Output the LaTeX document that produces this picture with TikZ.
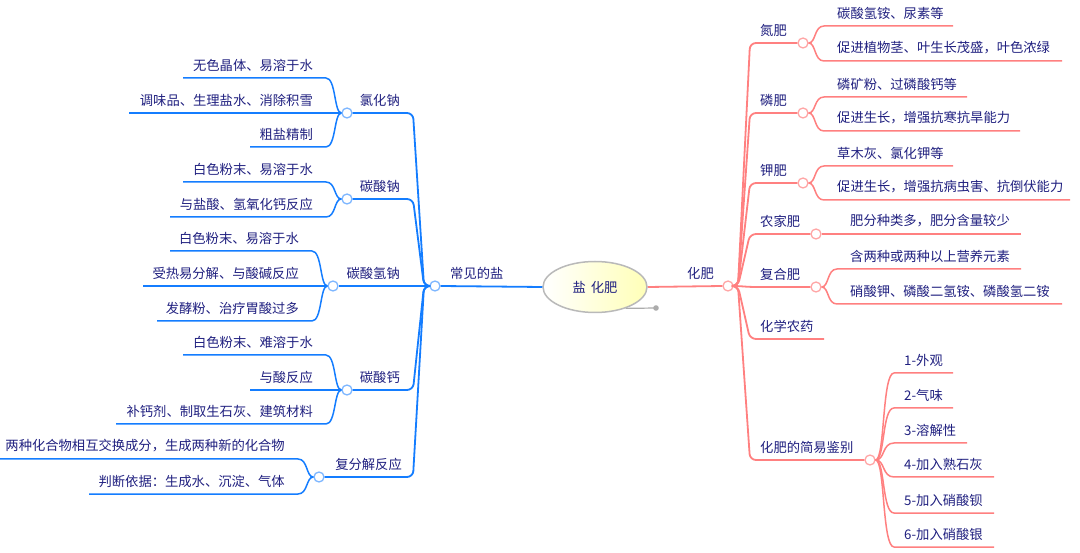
\documentclass[tikz,border=0pt]{standalone}
\usepackage{fontspec}
\setmainfont{Noto Sans CJK SC}
\usetikzlibrary{shapes.geometric}

\definecolor{mmblue}{RGB}{20,125,255}
\definecolor{mmpink}{RGB}{255,128,128}
\definecolor{mmtext}{RGB}{32,32,128}

\tikzset{
  txt/.style={inner sep=0pt, text=mmtext, font=\fontsize{13.3pt}{15pt}\selectfont},
  bline/.style={draw=mmblue, line width=1.8pt},
  pline/.style={draw=mmpink, line width=1.8pt},
  bleaf/.style={draw=mmblue, line width=1.5pt},
  pleaf/.style={draw=mmpink, line width=1.5pt},
  bdot/.style={circle, draw=mmblue!55, fill=white, line width=1.3pt, minimum size=10pt, inner sep=0pt},
  pdot/.style={circle, draw=mmpink!70, fill=white, line width=1.3pt, minimum size=10pt, inner sep=0pt},
}

\begin{document}
\begin{tikzpicture}[x=1pt, y=-1pt]
\useasboundingbox[fill=white] (0,0) rectangle (1080,553);

% centre
\node[ellipse, draw=gray!55, line width=1.5pt, left color=white, right color=yellow!28,
  minimum width=104pt, minimum height=51pt, txt] (root) at (595,287) {盐\hspace{5pt}化肥};
\coordinate (tail) at (656,308);
\draw[gray!65, line width=1.2pt] (root.-35) .. controls (641,309) .. (tail);
\fill[gray!65] (tail) circle (2.8pt);

\node[bdot] (salt) at (435,286) {};
\node[pdot] (fert) at (728,286) {};
\draw[bline] (root.west) -- (salt.east);
\draw[pline] (root.east) -- (fert.west);
\node[txt, anchor=west] (salt-t) at (450,273) {常见的盐};
\node[txt, anchor=west] (fert-t) at (687,273) {化肥};

% left side: salts
\node[bdot] (nacl) at (347,113) {};
\node[bdot] (na2co3) at (347,199) {};
\node[bdot] (nahco3) at (333,286) {};
\node[bdot] (caco3) at (347,390) {};
\node[bdot] (fufen) at (319,477) {};
\node[txt, anchor=east] (nacl-t) at (400,100) {氯化钠};
\node[txt, anchor=east] (na2co3-t) at (400,186) {碳酸钠};
\node[txt, anchor=east] (nahco3-t) at (400,273) {碳酸氢钠};
\node[txt, anchor=east] (caco3-t) at (400,377) {碳酸钙};
\node[txt, anchor=east] (fufen-t) at (402,464) {复分解反应};
\foreach \b/\y in {nacl/113, na2co3/199, nahco3/286, caco3/390, fufen/477}
  \draw[bline, rounded corners=6pt] (salt.west) -- (424,286) -- (413,\y) -- (\b.east);

\foreach \i/\xl/\y/\s in {1/183/78/无色晶体、易溶于水, 2/129/113/调味品、生理盐水、消除积雪, 3/250/147/粗盐精制}{
  \coordinate (nacl-\i) at (\xl,\y);
  \node[txt, anchor=east] (nacl-\i-t) at (313,\y-13) {\s};
  \draw[bleaf] (nacl.west) .. controls (334,113) and (336,\y) .. (326,\y) -- (nacl-\i);
}
\foreach \i/\xl/\y/\s in {1/183/182/白色粉末、易溶于水, 2/170/217/与盐酸、氢氧化钙反应}{
  \coordinate (na2co3-\i) at (\xl,\y);
  \node[txt, anchor=east] (na2co3-\i-t) at (313,\y-13) {\s};
  \draw[bleaf] (na2co3.west) .. controls (334,199) and (336,\y) .. (326,\y) -- (na2co3-\i);
}
\foreach \i/\xl/\y/\s in {1/170/251/白色粉末、易溶于水, 2/143/286/受热易分解、与酸碱反应, 3/157/321/发酵粉、治疗胃酸过多}{
  \coordinate (nahco3-\i) at (\xl,\y);
  \node[txt, anchor=east] (nahco3-\i-t) at (299,\y-13) {\s};
  \draw[bleaf] (nahco3.west) .. controls (320,286) and (322,\y) .. (312,\y) -- (nahco3-\i);
}
\foreach \i/\xl/\y/\s in {1/183/355/白色粉末、难溶于水, 2/250/390/与酸反应, 3/116/424/补钙剂、制取生石灰、建筑材料}{
  \coordinate (caco3-\i) at (\xl,\y);
  \node[txt, anchor=east] (caco3-\i-t) at (313,\y-13) {\s};
  \draw[bleaf] (caco3.west) .. controls (334,390) and (336,\y) .. (326,\y) -- (caco3-\i);
}
\foreach \i/\xl/\y/\s in {1/0/459/两种化合物相互交换成分，生成两种新的化合物, 2/89/494/判断依据：生成水、沉淀、气体}{
  \coordinate (fufen-\i) at (\xl,\y);
  \node[txt, anchor=east] (fufen-\i-t) at (285,\y-13) {\s};
  \draw[bleaf] (fufen.west) .. controls (306,477) and (308,\y) .. (298,\y) -- (fufen-\i);
}

% right side: fertilizers
\node[pdot] (nfei) at (803,43) {};
\node[pdot] (pfei) at (803,113) {};
\node[pdot] (kfei) at (803,183) {};
\node[pdot] (nongjia) at (816,234) {};
\node[pdot] (fuhe) at (816,287) {};
\coordinate (nongyao) at (824,339);
\node[pdot] (jianbie) at (870,460) {};
\node[txt, anchor=west] (nfei-t) at (760,30) {氮肥};
\node[txt, anchor=west] (pfei-t) at (760,100) {磷肥};
\node[txt, anchor=west] (kfei-t) at (760,170) {钾肥};
\node[txt, anchor=west] (nongjia-t) at (760,221) {农家肥};
\node[txt, anchor=west] (fuhe-t) at (760,274) {复合肥};
\node[txt, anchor=west] (nongyao-t) at (760,326) {化学农药};
\node[txt, anchor=west] (jianbie-t) at (760,447) {化肥的简易鉴别};
\foreach \b/\y in {nfei/43, pfei/113, kfei/183, nongjia/234, fuhe/287, jianbie/460}
  \draw[pline, rounded corners=6pt] (fert.east) -- (738,286) -- (750,\y) -- (\b.west);
\draw[pline, rounded corners=6pt] (fert.east) -- (738,286) -- (750,339) -- (nongyao);

\foreach \i/\xr/\y/\s in {1/953/26/碳酸氢铵、尿素等, 2/1062/61/促进植物茎、叶生长茂盛，叶色浓绿}{
  \coordinate (nfei-\i) at (\xr,\y);
  \node[txt, anchor=west] (nfei-\i-t) at (837,\y-13) {\s};
  \draw[pleaf] (nfei.east) .. controls (816,43) and (814,\y) .. (824,\y) -- (nfei-\i);
}
\foreach \i/\xr/\y/\s in {1/967/97/磷矿粉、过磷酸钙等, 2/1020/131/促进生长，增强抗寒抗旱能力}{
  \coordinate (pfei-\i) at (\xr,\y);
  \node[txt, anchor=west] (pfei-\i-t) at (837,\y-13) {\s};
  \draw[pleaf] (pfei.east) .. controls (816,113) and (814,\y) .. (824,\y) -- (pfei-\i);
}
\foreach \i/\xr/\y/\s in {1/953/166/草木灰、氯化钾等, 2/1070/200/促进生长，增强抗病虫害、抗倒伏能力}{
  \coordinate (kfei-\i) at (\xr,\y);
  \node[txt, anchor=west] (kfei-\i-t) at (837,\y-13) {\s};
  \draw[pleaf] (kfei.east) .. controls (816,183) and (814,\y) .. (824,\y) -- (kfei-\i);
}
\coordinate (nongjia-1) at (1021,234);
\node[txt, anchor=west] (nongjia-1-t) at (850,221) {肥分种类多，肥分含量较少};
\draw[pleaf] (nongjia.east) -- (nongjia-1);
\foreach \i/\xr/\y/\s in {1/1021/269/含两种或两种以上营养元素, 2/1062/304/硝酸钾、磷酸二氢铵、磷酸氢二铵}{
  \coordinate (fuhe-\i) at (\xr,\y);
  \node[txt, anchor=west] (fuhe-\i-t) at (850,\y-13) {\s};
  \draw[pleaf] (fuhe.east) .. controls (829,287) and (827,\y) .. (837,\y) -- (fuhe-\i);
}
\foreach \i/\xr/\y/\s in {1/953/373/1-外观, 2/953/408/2-气味, 3/967/443/3-溶解性, 4/994/477/4-加入熟石灰, 5/994/513/5-加入硝酸钡, 6/994/547/6-加入硝酸银}{
  \coordinate (jianbie-\i) at (\xr,\y);
  \node[txt, anchor=west] (jianbie-\i-t) at (904,\y-13) {\s};
  \draw[pleaf] (jianbie.east) .. controls (885,460) and (882,\y) .. (894,\y) -- (jianbie-\i);
}
\end{tikzpicture}
\end{document}
